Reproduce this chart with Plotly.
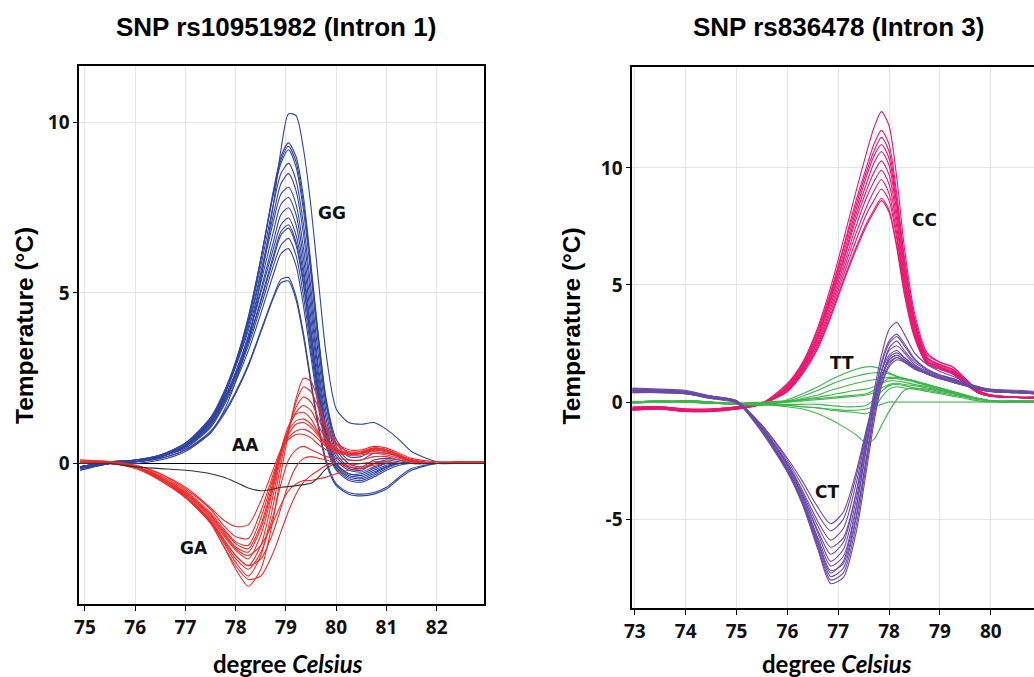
import plotly.graph_objects as go

# ---------------- Left panel data (SNP rs10951982) ----------------
X_LEFT = [74.9, 75.5, 76.0, 76.5, 77.0, 77.5, 77.75, 78.0, 78.25, 78.5, 78.75, 78.9, 79.05,
          79.2, 79.35, 79.5, 79.65, 79.8, 80.0, 80.25, 80.5, 80.75, 81.0, 81.25, 81.5, 82.0, 82.5, 82.95]

GG_CURVES = [
    [-0.1, 0.0, 0.0, 0.1, 0.35, 0.9, 1.5, 2.4, 3.6, 5.4, 7.6, 9.2, 10.25, 10.2, 9.2, 7.5, 5.3, 3.2, 1.6, 1.2, 1.15, 1.2, 1.0, 0.7, 0.35, 0.05, 0.0, 0.0],
    [-0.1, 0.05, 0.05, 0.2, 0.5, 1.2, 1.9, 2.9, 4.2, 6.0, 8.0, 9.0, 9.4, 9.0, 7.8, 5.8, 3.7, 1.9, 0.7, 0.3, 0.3, 0.45, 0.4, 0.25, 0.1, 0.0, 0.0, 0.0],
    [-0.1, 0.05, 0.05, 0.2, 0.55, 1.25, 1.95, 2.95, 4.25, 6.0, 7.95, 8.9, 9.3, 8.85, 7.6, 5.7, 3.6, 1.8, 0.6, 0.2, 0.2, 0.4, 0.35, 0.2, 0.05, 0.0, 0.0, 0.0],
    [-0.15, 0.05, 0.1, 0.25, 0.6, 1.35, 2.05, 3.0, 4.3, 6.0, 7.9, 8.8, 9.2, 8.7, 7.4, 5.5, 3.4, 1.7, 0.5, 0.1, 0.1, 0.3, 0.3, 0.2, 0.05, 0.0, 0.0, 0.0],
    [-0.1, 0.0, 0.05, 0.2, 0.55, 1.3, 2.0, 2.95, 4.2, 5.8, 7.6, 8.5, 8.8, 8.3, 7.0, 5.1, 3.1, 1.5, 0.4, 0.0, -0.1, 0.1, 0.15, 0.1, 0.0, 0.0, 0.0, 0.0],
    [-0.2, 0.0, 0.05, 0.2, 0.5, 1.25, 1.95, 2.9, 4.1, 5.6, 7.3, 8.2, 8.5, 8.0, 6.7, 4.8, 2.8, 1.3, 0.3, -0.1, -0.15, 0.0, 0.1, 0.05, 0.0, 0.0, 0.0, 0.0],
    [-0.1, 0.05, 0.05, 0.2, 0.55, 1.25, 1.95, 2.85, 4.0, 5.5, 7.1, 7.9, 8.1, 7.6, 6.3, 4.5, 2.6, 1.1, 0.2, -0.15, -0.2, 0.0, 0.05, 0.0, 0.0, 0.0, 0.0, 0.0],
    [-0.1, 0.05, 0.1, 0.25, 0.6, 1.3, 1.95, 2.85, 3.9, 5.3, 6.8, 7.6, 7.8, 7.3, 6.0, 4.2, 2.4, 1.0, 0.1, -0.2, -0.25, -0.1, 0.0, 0.0, 0.0, 0.0, 0.0, 0.0],
    [-0.15, 0.0, 0.05, 0.2, 0.5, 1.2, 1.85, 2.7, 3.75, 5.1, 6.5, 7.3, 7.5, 7.0, 5.7, 3.9, 2.2, 0.9, 0.0, -0.3, -0.35, -0.2, -0.05, 0.0, 0.0, 0.0, 0.0, 0.0],
    [-0.15, 0.0, 0.1, 0.25, 0.55, 1.2, 1.8, 2.65, 3.7, 5.0, 6.3, 7.0, 7.2, 6.7, 5.5, 3.8, 2.1, 0.85, 0.0, -0.3, -0.3, -0.15, 0.0, 0.0, 0.0, 0.0, 0.0, 0.0],
    [-0.1, 0.05, 0.1, 0.2, 0.5, 1.15, 1.8, 2.6, 3.6, 4.8, 6.1, 6.8, 7.0, 6.5, 5.3, 3.6, 2.0, 0.8, -0.05, -0.35, -0.4, -0.25, -0.1, 0.0, 0.0, 0.0, 0.0, 0.0],
    [-0.1, 0.0, 0.05, 0.2, 0.5, 1.1, 1.75, 2.55, 3.55, 4.75, 6.0, 6.7, 6.9, 6.4, 5.2, 3.5, 1.9, 0.7, -0.1, -0.4, -0.45, -0.3, -0.1, 0.0, 0.0, 0.0, 0.0, 0.0],
    [-0.2, 0.0, 0.05, 0.2, 0.45, 1.1, 1.7, 2.5, 3.45, 4.6, 5.8, 6.4, 6.6, 6.1, 4.9, 3.3, 1.8, 0.6, -0.15, -0.45, -0.5, -0.35, -0.15, 0.0, 0.0, 0.0, 0.0, 0.0],
    [-0.1, 0.0, 0.05, 0.2, 0.45, 1.05, 1.65, 2.4, 3.3, 4.4, 5.55, 6.15, 6.3, 5.8, 4.6, 3.1, 1.6, 0.5, -0.2, -0.5, -0.55, -0.4, -0.2, -0.05, 0.0, 0.0, 0.0, 0.0],
    [-0.15, 0.0, 0.05, 0.15, 0.4, 0.95, 1.45, 2.1, 2.9, 3.9, 4.9, 5.4, 5.45, 4.9, 3.8, 2.4, 1.1, 0.1, -0.6, -0.85, -0.9, -0.85, -0.7, -0.4, -0.15, 0.0, 0.0, 0.0],
    [-0.1, 0.05, 0.05, 0.15, 0.4, 0.9, 1.4, 2.05, 2.85, 3.85, 4.85, 5.3, 5.35, 4.8, 3.7, 2.3, 1.0, 0.0, -0.65, -0.9, -0.95, -0.9, -0.75, -0.45, -0.2, 0.0, 0.0, 0.0],
]

GA_CURVES = [
    [0.05, 0.0, -0.1, -0.45, -1.0, -1.75, -2.4, -3.1, -3.6, -3.1, -1.6, -0.3, 0.9, 1.9, 2.5, 2.4, 1.8, 1.1, 0.6, 0.4, 0.4, 0.5, 0.45, 0.3, 0.15, 0.05, 0.05, 0.05],
    [0.1, 0.05, -0.1, -0.45, -0.95, -1.7, -2.3, -2.9, -3.3, -2.7, -1.2, 0.0, 1.0, 1.8, 2.25, 2.1, 1.6, 1.0, 0.55, 0.35, 0.35, 0.45, 0.4, 0.25, 0.1, 0.0, 0.05, 0.05],
    [0.05, 0.0, -0.15, -0.5, -1.0, -1.7, -2.2, -2.7, -3.0, -2.4, -0.9, 0.2, 1.0, 1.65, 1.95, 1.8, 1.3, 0.8, 0.45, 0.3, 0.3, 0.4, 0.35, 0.2, 0.1, 0.0, 0.05, 0.05],
    [0.0, 0.05, -0.1, -0.4, -0.9, -1.6, -2.1, -2.55, -2.8, -2.1, -0.7, 0.3, 1.0, 1.5, 1.7, 1.55, 1.1, 0.7, 0.4, 0.3, 0.35, 0.45, 0.4, 0.25, 0.1, 0.0, 0.05, 0.05],
    [0.05, 0.0, -0.1, -0.4, -0.85, -1.5, -2.0, -2.45, -2.6, -1.9, -0.6, 0.4, 1.1, 1.45, 1.5, 1.3, 0.9, 0.6, 0.4, 0.3, 0.3, 0.4, 0.35, 0.2, 0.1, 0.0, 0.05, 0.05],
    [0.0, 0.0, -0.1, -0.4, -0.85, -1.5, -1.95, -2.35, -2.5, -1.8, -0.5, 0.4, 0.95, 1.25, 1.3, 1.15, 0.85, 0.55, 0.35, 0.3, 0.3, 0.4, 0.35, 0.2, 0.1, 0.0, 0.05, 0.05],
    [0.05, 0.0, -0.1, -0.35, -0.8, -1.45, -1.9, -2.3, -2.4, -1.6, -0.4, 0.35, 0.85, 1.15, 1.2, 1.05, 0.8, 0.55, 0.35, 0.25, 0.3, 0.4, 0.35, 0.2, 0.1, 0.0, 0.05, 0.05],
    [0.0, 0.05, -0.05, -0.3, -0.75, -1.35, -1.8, -2.15, -2.2, -1.4, -0.3, 0.35, 0.75, 0.95, 1.0, 0.9, 0.7, 0.5, 0.35, 0.25, 0.3, 0.35, 0.3, 0.2, 0.05, 0.0, 0.05, 0.05],
    [0.05, 0.0, -0.05, -0.3, -0.7, -1.3, -1.65, -1.85, -1.8, -1.1, -0.15, 0.4, 0.7, 0.85, 0.85, 0.75, 0.55, 0.4, 0.3, 0.25, 0.25, 0.3, 0.25, 0.15, 0.05, 0.0, 0.05, 0.05],
    [0.05, 0.0, -0.1, -0.45, -0.95, -1.65, -2.2, -2.7, -3.0, -2.8, -2.0, -1.3, -0.6, -0.1, 0.15, 0.2, 0.15, 0.1, 0.0, -0.1, -0.1, 0.0, 0.05, 0.0, 0.0, 0.0, 0.05, 0.05],
    [0.1, 0.05, -0.1, -0.5, -1.0, -1.75, -2.4, -3.0, -3.4, -3.3, -2.6, -2.0, -1.4, -0.9, -0.55, -0.35, -0.2, -0.05, 0.0, -0.05, 0.0, 0.05, 0.05, 0.0, 0.0, 0.0, 0.05, 0.05],
    [0.05, 0.0, -0.1, -0.45, -0.9, -1.55, -2.05, -2.5, -2.7, -2.4, -1.7, -1.2, -0.8, -0.6, -0.5, -0.5, -0.45, -0.4, -0.3, -0.2, -0.15, -0.05, 0.0, 0.0, 0.0, 0.0, 0.05, 0.05],
    [0.05, 0.05, -0.1, -0.45, -0.95, -1.7, -2.25, -2.8, -3.1, -2.6, -1.5, -0.6, 0.1, 0.4, 0.5, 0.4, 0.3, 0.2, 0.15, 0.1, 0.1, 0.2, 0.2, 0.1, 0.05, 0.0, 0.05, 0.05],
]

AA_CURVE = [0.0, 0.0, -0.1, -0.15, -0.2, -0.3, -0.4, -0.55, -0.72, -0.8, -0.75, -0.7, -0.68,
            -0.65, -0.62, -0.58, -0.4, -0.15, 0.0, 0.0, 0.0, 0.0, 0.0, 0.0, 0.0, 0.0, 0.0, 0.0]

# ---------------- Right panel data (SNP rs836478) ----------------
X_RIGHT = [72.95, 73.5, 74.0, 74.5, 75.0, 75.5, 76.0, 76.3, 76.6, 76.85, 77.1, 77.35, 77.55, 77.7,
           77.85, 78.0, 78.15, 78.3, 78.5, 78.75, 79.0, 79.25, 79.5, 79.75, 80.0, 80.5, 80.9]

CC_CURVES = [
    [-0.3, -0.25, -0.35, -0.35, -0.25, -0.05, 0.8, 1.7, 3.2, 4.9, 6.9, 9.0, 10.6, 11.7, 12.4, 11.8, 9.6, 6.6, 3.8, 2.1, 1.7, 1.5, 1.0, 0.5, 0.3, 0.2, 0.2],
    [-0.2, -0.2, -0.3, -0.3, -0.2, -0.05, 0.75, 1.65, 3.1, 4.7, 6.6, 8.6, 10.0, 11.0, 11.6, 11.0, 8.9, 6.2, 3.6, 2.0, 1.7, 1.5, 1.0, 0.5, 0.3, 0.2, 0.2],
    [-0.3, -0.3, -0.4, -0.35, -0.25, -0.1, 0.7, 1.6, 3.0, 4.6, 6.5, 8.4, 9.8, 10.7, 11.3, 10.7, 8.6, 6.0, 3.5, 1.9, 1.6, 1.4, 0.95, 0.45, 0.3, 0.2, 0.15],
    [-0.25, -0.25, -0.35, -0.4, -0.3, -0.1, 0.65, 1.55, 2.9, 4.5, 6.3, 8.2, 9.6, 10.5, 11.0, 10.4, 8.4, 5.8, 3.4, 1.9, 1.6, 1.4, 0.9, 0.45, 0.3, 0.2, 0.2],
    [-0.3, -0.2, -0.3, -0.3, -0.2, -0.05, 0.6, 1.5, 2.8, 4.4, 6.1, 8.0, 9.3, 10.2, 10.7, 10.1, 8.1, 5.6, 3.3, 1.85, 1.55, 1.35, 0.9, 0.45, 0.3, 0.2, 0.15],
    [-0.35, -0.3, -0.4, -0.4, -0.3, -0.1, 0.6, 1.45, 2.75, 4.3, 6.0, 7.8, 9.0, 9.8, 10.3, 9.7, 7.8, 5.4, 3.2, 1.8, 1.5, 1.3, 0.85, 0.4, 0.3, 0.2, 0.2],
    [-0.3, -0.25, -0.35, -0.35, -0.25, -0.1, 0.55, 1.4, 2.65, 4.15, 5.8, 7.5, 8.7, 9.4, 9.9, 9.3, 7.5, 5.2, 3.1, 1.75, 1.5, 1.3, 0.85, 0.4, 0.25, 0.2, 0.15],
    [-0.25, -0.2, -0.3, -0.3, -0.2, -0.05, 0.5, 1.35, 2.55, 4.0, 5.6, 7.2, 8.3, 9.0, 9.5, 8.9, 7.2, 5.0, 3.0, 1.7, 1.45, 1.25, 0.8, 0.4, 0.25, 0.2, 0.2],
    [-0.3, -0.3, -0.4, -0.35, -0.25, -0.1, 0.5, 1.3, 2.45, 3.85, 5.4, 6.9, 8.0, 8.6, 9.1, 8.6, 7.0, 4.9, 2.9, 1.7, 1.45, 1.25, 0.8, 0.4, 0.25, 0.2, 0.15],
    [-0.35, -0.3, -0.4, -0.4, -0.3, -0.1, 0.45, 1.25, 2.35, 3.7, 5.2, 6.6, 7.6, 8.2, 8.7, 8.2, 6.7, 4.7, 2.8, 1.65, 1.4, 1.2, 0.8, 0.4, 0.25, 0.2, 0.2],
    [-0.3, -0.25, -0.35, -0.35, -0.25, -0.05, 0.45, 1.2, 2.3, 3.6, 5.1, 6.5, 7.5, 8.1, 8.6, 8.1, 6.6, 4.6, 2.75, 1.6, 1.4, 1.2, 0.75, 0.4, 0.25, 0.2, 0.2],
]

TT_CURVES = [
    [0.0, 0.05, 0.0, -0.05, -0.1, -0.15, 0.1, 0.35, 0.65, 0.95, 1.2, 1.4, 1.5, 1.5, 1.4, 1.25, 1.1, 1.0, 0.9, 0.75, 0.6, 0.45, 0.3, 0.15, 0.05, 0.05, 0.05],
    [0.0, 0.0, 0.05, 0.0, -0.1, -0.1, 0.05, 0.25, 0.5, 0.75, 0.95, 1.1, 1.2, 1.25, 1.25, 1.2, 1.1, 1.0, 0.9, 0.75, 0.6, 0.45, 0.3, 0.15, 0.05, 0.05, 0.05],
    [-0.05, 0.0, 0.05, 0.0, -0.1, -0.1, 0.0, 0.15, 0.3, 0.5, 0.65, 0.8, 0.9, 0.95, 1.0, 1.05, 1.05, 1.0, 0.9, 0.75, 0.6, 0.45, 0.3, 0.15, 0.05, 0.0, 0.0],
    [0.0, 0.0, 0.0, -0.05, -0.1, -0.05, 0.0, 0.1, 0.2, 0.3, 0.4, 0.5, 0.55, 0.65, 0.8, 0.9, 0.9, 0.85, 0.75, 0.65, 0.5, 0.4, 0.25, 0.15, 0.05, 0.0, 0.0],
    [0.0, 0.05, 0.05, 0.0, -0.05, 0.0, 0.05, 0.1, 0.15, 0.2, 0.25, 0.3, 0.35, 0.5, 0.8, 1.0, 1.0, 0.95, 0.85, 0.7, 0.55, 0.4, 0.25, 0.15, 0.05, 0.0, 0.0],
    [0.0, 0.05, 0.0, -0.05, -0.1, -0.05, 0.0, 0.05, 0.1, 0.15, 0.2, 0.25, 0.3, 0.4, 0.6, 0.75, 0.8, 0.75, 0.7, 0.6, 0.5, 0.35, 0.25, 0.15, 0.05, 0.0, 0.0],
    [0.0, 0.0, 0.05, 0.0, -0.1, -0.1, -0.1, -0.1, -0.1, -0.15, -0.2, -0.2, -0.15, 0.1, 0.45, 0.7, 0.75, 0.7, 0.6, 0.5, 0.4, 0.3, 0.2, 0.1, 0.05, 0.0, 0.0],
    [-0.05, 0.0, 0.0, -0.05, -0.1, -0.1, -0.15, -0.2, -0.25, -0.35, -0.4, -0.45, -0.5, -0.3, 0.2, 0.55, 0.65, 0.6, 0.55, 0.45, 0.35, 0.25, 0.15, 0.05, 0.0, 0.0, 0.0],
    [0.0, 0.0, 0.05, 0.0, -0.1, -0.1, -0.2, -0.3, -0.5, -0.75, -1.05, -1.4, -1.75, -1.6, -1.0, -0.4, 0.1, 0.5, 0.6, 0.55, 0.45, 0.35, 0.25, 0.15, 0.05, 0.0, 0.0],
    [0.0, 0.0, 0.0, -0.05, -0.1, -0.1, -0.15, -0.2, -0.25, -0.3, -0.35, -0.35, -0.3, -0.2, -0.1, 0.0, 0.0, 0.0, 0.0, 0.0, 0.0, 0.0, 0.0, 0.0, 0.0, 0.0, 0.0],
]

CT_CURVES = [
    [0.45, 0.45, 0.35, 0.2, 0.0, -1.0, -2.4, -3.4, -4.5, -5.2, -4.7, -3.0, -1.2, 0.1, 1.1, 1.7, 1.9, 1.7, 1.4, 1.2, 1.0, 0.9, 0.75, 0.6, 0.5, 0.45, 0.4],
    [0.5, 0.5, 0.4, 0.2, 0.0, -1.0, -2.5, -3.6, -4.8, -5.5, -5.0, -3.2, -1.3, 0.1, 1.3, 2.0, 2.2, 1.9, 1.5, 1.25, 1.05, 0.9, 0.75, 0.6, 0.5, 0.45, 0.4],
    [0.55, 0.5, 0.45, 0.25, 0.05, -1.05, -2.6, -3.8, -5.1, -5.9, -5.4, -3.5, -1.4, 0.2, 1.6, 2.5, 2.8, 2.4, 1.8, 1.4, 1.15, 1.0, 0.8, 0.65, 0.5, 0.45, 0.4],
    [0.4, 0.4, 0.35, 0.15, -0.05, -1.1, -2.65, -3.9, -5.3, -6.2, -5.8, -3.9, -1.7, -0.1, 1.1, 1.8, 2.0, 1.8, 1.5, 1.2, 1.0, 0.85, 0.7, 0.55, 0.45, 0.4, 0.35],
    [0.6, 0.55, 0.5, 0.25, 0.05, -1.1, -2.7, -4.0, -5.5, -6.5, -6.0, -3.9, -1.5, 0.4, 2.0, 3.1, 3.4, 2.9, 2.1, 1.6, 1.3, 1.1, 0.85, 0.65, 0.55, 0.5, 0.45],
    [0.5, 0.45, 0.4, 0.2, 0.0, -1.1, -2.7, -4.0, -5.6, -6.8, -6.3, -4.2, -1.8, -0.1, 1.3, 2.2, 2.4, 2.1, 1.6, 1.3, 1.1, 0.95, 0.8, 0.6, 0.5, 0.45, 0.4],
    [0.45, 0.45, 0.35, 0.2, 0.0, -1.15, -2.8, -4.1, -5.8, -7.0, -6.6, -4.5, -2.0, -0.2, 1.3, 2.3, 2.6, 2.2, 1.7, 1.35, 1.1, 0.95, 0.8, 0.6, 0.5, 0.45, 0.4],
    [0.5, 0.5, 0.4, 0.2, 0.0, -1.2, -2.85, -4.2, -5.9, -7.2, -6.9, -4.9, -2.5, -0.6, 0.7, 1.5, 1.8, 1.7, 1.45, 1.2, 1.0, 0.85, 0.7, 0.55, 0.45, 0.4, 0.35],
    [0.55, 0.5, 0.45, 0.25, 0.05, -1.2, -2.9, -4.25, -6.0, -7.3, -6.8, -4.6, -2.0, 0.0, 1.7, 2.6, 2.9, 2.5, 1.85, 1.4, 1.15, 1.0, 0.8, 0.65, 0.5, 0.45, 0.4],
    [0.55, 0.5, 0.45, 0.2, 0.05, -1.2, -2.9, -4.3, -6.1, -7.45, -7.1, -5.0, -2.4, -0.4, 1.0, 1.9, 2.1, 1.9, 1.55, 1.25, 1.05, 0.9, 0.75, 0.6, 0.5, 0.45, 0.4],
    [0.4, 0.4, 0.35, 0.15, 0.0, -1.25, -2.95, -4.35, -6.2, -7.6, -7.3, -5.3, -2.7, -0.6, 0.9, 1.8, 2.0, 1.8, 1.5, 1.2, 1.0, 0.85, 0.7, 0.55, 0.45, 0.4, 0.35],
    [0.5, 0.45, 0.4, 0.2, 0.0, -1.3, -3.0, -4.4, -6.3, -7.75, -7.5, -5.6, -3.0, -0.9, 0.7, 1.6, 1.9, 1.75, 1.45, 1.2, 1.0, 0.85, 0.7, 0.55, 0.45, 0.4, 0.35],
]

TITLES = ["SNP rs10951982 (Intron 1)", "SNP rs836478 (Intron 3)"]
LEFT_YTICKS = [0, 5, 10]
RIGHT_YTICKS = [-5, 0, 5, 10]
RIGHT_YTICK_TEXT = ["-5", "0", "5", "10"]
GROUP_LABELS_LEFT = {"GG": (79.92, 7.35), "AA": (78.2, 0.54), "GA": (77.17, -2.48)}
GROUP_LABELS_RIGHT = {"CC": (78.7, 7.79), "TT": (77.07, 1.66), "CT": (76.77, -3.84)}

C_GG, C_GA, C_AA = "#2f44a0", "#f22a2a", "#333333"
C_CC, C_TT, C_CT = "#ea1570", "#3db54a", "#6a4aa8"

fig = go.Figure()


def add_group(xs, curves, color, xa, ya, width=1.1):
    for ys in curves:
        fig.add_trace(go.Scatter(x=xs, y=ys, mode="lines", xaxis=xa, yaxis=ya,
                                 line=dict(color=color, width=width, shape="spline", smoothing=0.7),
                                 showlegend=False, hoverinfo="skip"))


add_group(X_LEFT, GG_CURVES, C_GG, "x", "y")
add_group(X_LEFT, GA_CURVES, C_GA, "x", "y")
add_group(X_LEFT, [AA_CURVE], C_AA, "x", "y")
add_group(X_RIGHT, CC_CURVES, C_CC, "x2", "y2")
add_group(X_RIGHT, TT_CURVES, C_TT, "x2", "y2")
add_group(X_RIGHT, CT_CURVES, C_CT, "x2", "y2")

W, H = 1034, 677
tickfont = dict(family="Open Sans", size=19, color="#111", weight="bold")
common_x = dict(showgrid=True, gridcolor="#e4e4e4", gridwidth=1, showline=True, linecolor="black",
                linewidth=2, ticks="outside", ticklen=5, tickcolor="black", tickfont=tickfont,
                dtick=1, zeroline=False, automargin=False)
common_y = dict(showgrid=True, gridcolor="#e4e4e4", gridwidth=1, showline=True, linecolor="black",
                linewidth=2, ticks="outside", ticklen=4, tickcolor="black", tickfont=tickfont,
                automargin=False)

fig.update_layout(
    width=W, height=H,
    margin=dict(l=0, r=0, t=0, b=0),
    paper_bgcolor="white", plot_bgcolor="white",
    xaxis=dict(**common_x, domain=[79.3 / W, 484.3 / W], range=[74.887, 82.947],
               anchor="y", mirror=True, tick0=75),
    yaxis=dict(**common_y, domain=[1 - 604.3 / H, 1 - 65.5 / H], range=[-4.13, 11.67],
               anchor="x", mirror=True, zeroline=True, zerolinecolor="black", zerolinewidth=1.3,
               tickvals=LEFT_YTICKS),
    xaxis2=dict(**common_x, domain=[632.3 / W, 1.0], range=[72.95, 80.85],
                anchor="y2", mirror=True, tick0=73),
    yaxis2=dict(**common_y, domain=[1 - 608.3 / H, 1 - 66.7 / H], range=[-8.81, 14.32],
                anchor="x2", mirror=False, zeroline=False, tickvals=RIGHT_YTICKS,
                ticktext=RIGHT_YTICK_TEXT),
)

annots = []
title_font = dict(family="Liberation Sans, Arial", size=26, color="black")
for xc, t in zip((276, 838), TITLES):
    annots.append(dict(text="<b>" + t + "</b>", x=xc / W, y=1 - 27 / H, xref="paper", yref="paper",
                       showarrow=False, font=title_font, xanchor="center", yanchor="middle"))
ytitle_font = dict(family="Liberation Sans, Arial", size=24.5, color="black")
for xc in (25, 571.5):
    annots.append(dict(text="<b>Temperature (°C)</b>", x=xc / W, y=1 - 326 / H, xref="paper", yref="paper",
                       showarrow=False, textangle=-90, font=ytitle_font, xanchor="center", yanchor="middle"))
xtitle_font = dict(family="Lato", size=24, color="black")
for xc in (288, 837):
    annots.append(dict(text="<b>degree <i>Celsius</i></b>", x=xc / W, y=1 - 663 / H, xref="paper", yref="paper",
                       showarrow=False, font=xtitle_font, xanchor="center", yanchor="middle"))
lab_font = dict(family="DejaVu Sans", size=17, color="#111", weight="bold")
for name, (lx, ly) in GROUP_LABELS_LEFT.items():
    annots.append(dict(text=name, x=lx, y=ly, xref="x", yref="y", showarrow=False,
                       font=lab_font, xanchor="center", yanchor="middle"))
for name, (lx, ly) in GROUP_LABELS_RIGHT.items():
    annots.append(dict(text=name, x=lx, y=ly, xref="x2", yref="y2", showarrow=False,
                       font=lab_font, xanchor="center", yanchor="middle"))
fig.update_layout(annotations=annots)

fig.write_html("out.html", config={"displayModeBar": False},
               post_script="document.body.style.margin='0px';")
